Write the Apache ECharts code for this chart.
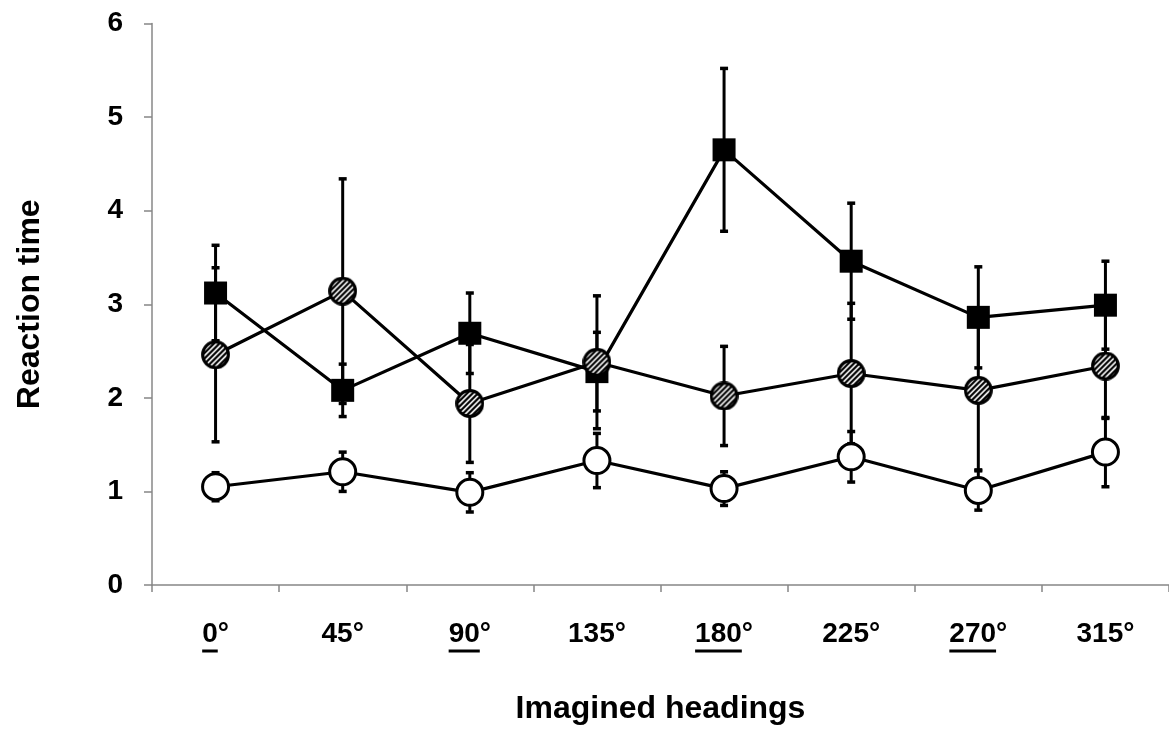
<!DOCTYPE html>
<html>
<head>
<meta charset="utf-8">
<script src="https://cdn.jsdelivr.net/npm/echarts@6/dist/echarts.min.js"></script>
<style>
html,body{margin:0;padding:0;background:#fff;}
#chart{width:1169px;height:732px;}
</style>
</head>
<body>
<div id="chart"></div>
<script>
// ---- data ----
var categories = ['0°', '45°', '90°', '135°', '180°', '225°', '270°', '315°'];
var underlined = [true, false, true, false, true, false, true, false];
var yTicks = [0, 1, 2, 3, 4, 5, 6];

var squareMean = [3.12, 2.08, 2.69, 2.28, 4.65, 3.46, 2.86, 2.99];
var squareErr  = [0.51, 0.28, 0.43, 0.42, 0.87, 0.62, 0.54, 0.47];

var hatchMean  = [2.46, 3.14, 1.94, 2.38, 2.02, 2.26, 2.08, 2.34];
var hatchErr   = [0.93, 1.20, 0.63, 0.71, 0.53, 0.75, 0.85, 0.56];

var openMean   = [1.05, 1.21, 0.99, 1.33, 1.03, 1.37, 1.01, 1.42];
var openErr    = [0.15, 0.21, 0.21, 0.29, 0.18, 0.27, 0.21, 0.37];

// ---- hatched circle symbol image ----
var SYM = 29;
function makeHatchedCircle(size) {
  var c = document.createElement('canvas');
  c.width = size; c.height = size;
  var g = c.getContext('2d');
  var r = size / 2;
  g.save();
  g.beginPath();
  g.arc(r, r, r - 1.5, 0, Math.PI * 2);
  g.fillStyle = '#fff';
  g.fill();
  g.clip();
  g.strokeStyle = '#000';
  g.lineWidth = 2.2;
  var step = 5.4;
  g.beginPath();
  for (var k = -size; k < size * 2; k += step) {
    g.moveTo(k, size);
    g.lineTo(k + size, 0);
  }
  g.stroke();
  g.restore();
  g.beginPath();
  g.arc(r, r, r - 1.7, 0, Math.PI * 2);
  g.strokeStyle = '#000';
  g.lineWidth = 3.2;
  g.stroke();
  return c.toDataURL();
}
var hatchSymbol = 'image://' + makeHatchedCircle(SYM);

function errData(mean, err) {
  return mean.map(function (m, i) { return [i, m - err[i], m + err[i]]; });
}

function errRender(params, api) {
  var x = api.value(0);
  var lo = api.coord([x, api.value(1)]);
  var hi = api.coord([x, api.value(2)]);
  var hw = 4;
  return {
    type: 'group',
    children: [
      { type: 'line', shape: { x1: hi[0], y1: hi[1], x2: lo[0], y2: lo[1] }, style: { stroke: '#000', lineWidth: 3 } },
      { type: 'line', shape: { x1: hi[0] - hw, y1: hi[1], x2: hi[0] + hw, y2: hi[1] }, style: { stroke: '#000', lineWidth: 3.5 } },
      { type: 'line', shape: { x1: lo[0] - hw, y1: lo[1], x2: lo[0] + hw, y2: lo[1] }, style: { stroke: '#000', lineWidth: 3.5 } }
    ]
  };
}

var FS = 28;
var digitW = 0.556 * FS;
var degW = 0.4 * FS;

var chart = echarts.init(document.getElementById('chart'));
var lineStyle = { color: '#000', width: 3.2 };

chart.setOption({
  animation: false,
  backgroundColor: '#fff',
  grid: { left: 152, right: -3, top: 23.5, bottom: 147, containLabel: false },
  xAxis: {
    type: 'category',
    data: categories,
    boundaryGap: true,
    name: 'Imagined headings',
    nameLocation: 'middle',
    nameGap: 108,
    nameTextStyle: { fontFamily: 'Liberation Sans', fontWeight: 'bold', fontSize: 32, color: '#000' },
    axisLine: { lineStyle: { color: '#878787', width: 1.5 } },
    axisTick: { show: true, alignWithLabel: false, length: 7, lineStyle: { color: '#878787', width: 1.5 } },
    axisLabel: {
      margin: 34,
      formatter: function (v, i) {
        var digits = v.replace('°', '');
        if (underlined[i]) {
          return '{n|' + digits + '}{n|°}\n{ul' + digits.length + '|}{sp|}';
        }
        return '{n|' + v + '}';
      },
      rich: {
        n: { fontFamily: 'Liberation Sans', fontWeight: 'bold', fontSize: FS, color: '#000', lineHeight: 30 },
        ul1: { width: digitW * 1, height: 3, backgroundColor: '#000', lineHeight: 4 },
        ul2: { width: digitW * 2, height: 3, backgroundColor: '#000', lineHeight: 4 },
        ul3: { width: digitW * 3, height: 3, backgroundColor: '#000', lineHeight: 4 },
        sp: { width: degW, height: 3, lineHeight: 4 }
      }
    },
    splitLine: { show: false }
  },
  yAxis: {
    type: 'value',
    min: yTicks[0],
    max: yTicks[yTicks.length - 1],
    interval: 1,
    name: 'Reaction time',
    nameLocation: 'middle',
    nameRotate: 90,
    nameGap: 106,
    nameTextStyle: { fontFamily: 'Liberation Sans', fontWeight: 'bold', fontSize: 32, color: '#000' },
    axisLine: { show: true, lineStyle: { color: '#878787', width: 1.5 } },
    axisTick: { show: true, inside: false, length: 8, lineStyle: { color: '#878787', width: 1.5 } },
    axisLabel: { margin: 29, fontFamily: 'Liberation Sans', fontWeight: 'bold', fontSize: 28, color: '#000' },
    splitLine: { show: false }
  },
  series: [
    { type: 'custom', name: 'errSquare', renderItem: errRender, data: errData(squareMean, squareErr), z: 1, silent: true },
    { type: 'custom', name: 'errHatch', renderItem: errRender, data: errData(hatchMean, hatchErr), z: 1, silent: true },
    { type: 'custom', name: 'errOpen', renderItem: errRender, data: errData(openMean, openErr), z: 1, silent: true },
    {
      type: 'line', name: 'open', data: openMean, z: 3,
      symbol: 'circle', symbolSize: 26,
      lineStyle: lineStyle,
      itemStyle: { color: '#fff', borderColor: '#000', borderWidth: 3 },
      emphasis: { disabled: true }
    },
    {
      type: 'line', name: 'square', data: squareMean, z: 3,
      symbol: 'rect', symbolSize: 23,
      lineStyle: lineStyle,
      itemStyle: { color: '#000', borderColor: '#000', borderWidth: 0 },
      emphasis: { disabled: true }
    },
    {
      type: 'line', name: 'hatch', data: hatchMean, z: 3,
      symbol: hatchSymbol, symbolSize: SYM,
      lineStyle: lineStyle,
      itemStyle: { color: '#000' },
      emphasis: { disabled: true }
    }
  ]
});
</script>
</body>
</html>
